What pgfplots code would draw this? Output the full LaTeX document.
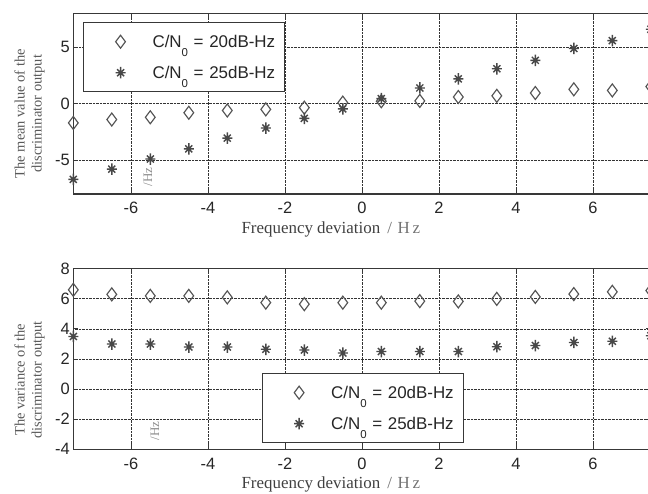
\documentclass[border=0pt]{standalone}
\usepackage{fontspec}
\setmainfont{Liberation Serif}
\newfontfamily\arial{Liberation Sans}
\usepackage{pgfplots}
\pgfplotsset{compat=1.18}

\definecolor{mk}{gray}{0.33}
\definecolor{ax}{gray}{0.22}
\definecolor{lbl}{gray}{0.25}

\pgfdeclareplotmark{mstar}{%
 \pgfpathmoveto{\pgfqpoint{-\pgfplotmarksize}{0pt}}\pgfpathlineto{\pgfqpoint{\pgfplotmarksize}{0pt}}%
 \pgfpathmoveto{\pgfqpoint{0pt}{-1.15\pgfplotmarksize}}\pgfpathlineto{\pgfqpoint{0pt}{1.15\pgfplotmarksize}}%
 \pgfpathmoveto{\pgfqpoint{-.7\pgfplotmarksize}{-.7\pgfplotmarksize}}\pgfpathlineto{\pgfqpoint{.7\pgfplotmarksize}{.7\pgfplotmarksize}}%
 \pgfpathmoveto{\pgfqpoint{-.7\pgfplotmarksize}{.7\pgfplotmarksize}}\pgfpathlineto{\pgfqpoint{.7\pgfplotmarksize}{-.7\pgfplotmarksize}}%
 \pgfusepathqstroke}

\newcommand{\sub}{\raisebox{-9bp}{\fontsize{11.5}{11.5}\selectfont 0}}

\pgfplotsset{myax/.style={
  scale only axis, width=577.5bp, height=180.5bp,
  xmin=-7.5, xmax=7.5, xtick={-6,-4,...,6},
  grid=major, major grid style={densely dotted, black!80, line width=0.9bp},
  axis line style={ax, line width=1.1bp},
  tick style={ax, line width=1bp}, tick align=inside, major tick length=5bp,
  /pgf/number format/assume math mode=true,
  ticklabel style={font=\arial\fontsize{16.5}{16.5}\selectfont, text=black!85},
  xticklabel style={yshift=-5bp},
  label style={font=\fontsize{17}{17}\selectfont, text=lbl},
  xlabel={Frequency deviation {\color{black!55}\,/\,\,H\,z}},
  ylabel style={align=center, font=\fontsize{14.5}{17}\selectfont, text=black!65, anchor=center},
  legend cell align=left,
  legend style={draw=ax, line width=1.1bp, inner xsep=0pt, inner ysep=3.5bp,
    row sep=0pt, column sep=0pt, fill=white, anchor=north west,
    nodes={draw=none, inner sep=0pt, text width=132bp, align=left, text=black!85,
      font=\arial\fontsize{17}{17}\selectfont}},
  legend image code/.code={\path[draw=none, fill=none] (0bp,-15.5bp) rectangle (69bp,15.5bp);
    \draw[##1] plot coordinates {(37bp,0bp)};},
  dia/.style={only marks, mark=diamond, mark size=6.5bp, color=mk, line width=1.15bp},
  sta/.style={only marks, mark=mstar, mark size=5bp, color=mk!85!black, line width=1.4bp},
}}

\pgfplotstableread{
x top20 top25 bot20 bot25
-7.5 -1.70 -6.70 6.60 3.50
-6.5 -1.40 -5.80 6.30 3.00
-5.5 -1.20 -4.90 6.20 3.00
-4.5 -0.80 -4.00 6.20 2.80
-3.5 -0.60 -3.05 6.10 2.80
-2.5 -0.50 -2.15 5.75 2.65
-1.5 -0.35 -1.30 5.65 2.60
-0.5  0.10 -0.45 5.75 2.40
 0.5  0.22  0.45 5.75 2.50
 1.5  0.25  1.40 5.85 2.50
 2.5  0.60  2.20 5.83 2.50
 3.5  0.70  3.10 6.00 2.82
 4.5  0.95  3.85 6.13 2.90
 5.5  1.28  4.90 6.32 3.10
 6.5  1.18  5.60 6.47 3.18
 7.5  1.52  6.60 6.55 3.55
}\data

\begin{document}
\begin{tikzpicture}
\begin{axis}[myax, at={(73.3bp,300bp)}, anchor=south west,
  ymin=-8, ymax=8, ytick={-5,0,5},
  xlabel style={at={(axis description cs:0.446,-0.199)}, anchor=center},
  ylabel={The mean value of the\\discriminator output},
  ylabel style={at={(axis description cs:-0.0758,0.445)}},
  legend style={at={(axis description cs:0.0168,0.952)}}]
\addplot[dia] table[x=x,y=top20]{\data};
\addlegendentry{C/N\sub\ = 20dB-Hz}
\addplot[sta] table[x=x,y=top25]{\data};
\addlegendentry{C/N\sub\ = 25dB-Hz}
\node[rotate=90, text=black!45, font=\fontsize{13}{13}\selectfont] at (axis cs:-5.56,-6.5) {/Hz};
\end{axis}
\begin{axis}[myax, at={(73.3bp,44.7bp)}, anchor=south west,
  ymin=-4, ymax=8, ytick={-4,-2,...,8},
  xlabel style={at={(axis description cs:0.446,-0.193)}, anchor=center},
  ylabel={The variance of the\\discriminator output},
  ylabel style={at={(axis description cs:-0.0758,0.385)}},
  legend style={at={(axis description cs:0.326,0.422)}}]
\addplot[dia] table[x=x,y=bot20]{\data};
\addlegendentry{C/N\sub\ = 20dB-Hz}
\addplot[sta] table[x=x,y=bot25]{\data};
\addlegendentry{C/N\sub\ = 25dB-Hz}
\node[rotate=90, text=black!45, font=\fontsize{13}{13}\selectfont] at (axis cs:-5.38,-2.8) {/Hz};
\end{axis}
\pgfresetboundingbox
\path[use as bounding box] (0,0) rectangle (648bp,494bp);
\end{tikzpicture}
\end{document}
